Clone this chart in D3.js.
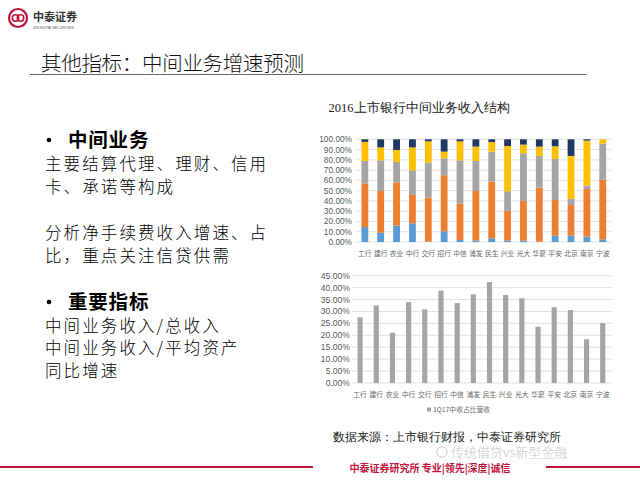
<!DOCTYPE html>
<html><head><meta charset="utf-8">
<script src="https://cdn.jsdelivr.net/npm/d3@7"></script>
<style>body{margin:0;background:#fff}svg{display:block}</style>
</head><body>
<svg id="c" width="640" height="480"></svg>
<script>
// ---------- data ----------
const banks = ["工行","建行","农业","中行","交行","招行","中信","浦发","民生","兴业","光大","华夏","平安","北京","南京","宁波"];
const seriesNames = ["结算类","银行卡","代理类","理财类","其他"];
const s1 = [14.5, 9.0, 16.0, 18.2, 0.5, 10.4, 2.0, 1.6, 3.5, 1.6, 1.3, 0.3, 6.2, 6.2, 5.2, 2.6];
const s2 = [42.5, 40.7, 42.0, 27.6, 42.7, 54.6, 35.3, 48.1, 55.3, 28.9, 38.7, 52.6, 34.7, 29.8, 46.4, 58.1];
const s3 = [22.0, 29.8, 20.0, 24.0, 34.1, 16.5, 42.2, 29.2, 29.2, 18.9, 46.4, 30.9, 39.9, 5.9, 3.3, 35.1];
const s4 = [18.5, 12.7, 11.6, 22.4, 20.7, 6.5, 18.5, 14.0, 9.4, 44.1, 8.4, 9.1, 12.4, 41.9, 43.8, 4.2];
const s5 = [2.5, 7.8, 10.4, 7.8, 2.0, 12.0, 2.0, 7.1, 2.6, 6.5, 5.2, 7.1, 6.8, 16.2, 1.3, 0.0];
const ratio1Q17 = [27.5, 32.5, 21.1, 33.9, 30.9, 38.7, 33.5, 37.2, 42.3, 36.9, 35.5, 23.6, 31.8, 30.6, 18.3, 25.1];
const ticks1 = [0,10,20,30,40,50,60,70,80,90,100];
const ticks2 = [0,5,10,15,20,25,30,35,40,45];
const legend2 = "1Q17中收占比营收";

const svg = d3.select("#c");
const cjk = "'Noto Sans CJK SC', sans-serif";
const red = "#c0143c";

// ---------- header ----------
svg.append("circle").attr("cx",18).attr("cy",18).attr("r",9).attr("fill","none").attr("stroke",red).attr("stroke-width",2.2);
svg.append("circle").attr("cx",15.5).attr("cy",18).attr("r",3.2).attr("fill","none").attr("stroke",red).attr("stroke-width",1.6);
svg.append("circle").attr("cx",20.5).attr("cy",18).attr("r",3.2).attr("fill","none").attr("stroke",red).attr("stroke-width",1.6);
svg.append("text").attr("x",33).attr("y",21).attr("font-family",cjk).attr("font-weight",700).attr("font-size",11).attr("fill","#333").text("中泰证券");
svg.append("text").attr("x",33).attr("y",28.5).attr("font-family","Liberation Sans, Arial").attr("font-size",3.6).attr("fill","#555").text("ZHONGTAI SECURITIES");

svg.append("text").attr("x",41).attr("y",71).attr("font-family",cjk).attr("font-weight",300).attr("font-size",20.5).attr("letter-spacing",-0.3).attr("fill","#111").text("其他指标：中间业务增速预测");
svg.append("line").attr("x1",30).attr("x2",587).attr("y1",74.5).attr("y2",74.5).attr("stroke","#666").attr("stroke-width",1);

// ---------- left text ----------
const leftLines = [
  {t:"中间业务",x:68,y:147,b:true,s:19.5},
  {t:"主要结算代理、理财、信用",x:45,y:170,s:16.5},
  {t:"卡、承诺等构成",x:45,y:193,s:16.5},
  {t:"分析净手续费收入增速、占",x:45,y:239,s:16.5},
  {t:"比，重点关注信贷供需",x:45,y:262,s:16.5},
  {t:"重要指标",x:68,y:309,b:true,s:19.5},
  {t:"中间业务收入/总收入",x:45,y:332,s:16.5},
  {t:"中间业务收入/平均资产",x:45,y:354,s:16.5},
  {t:"同比增速",x:45,y:377,s:16.5}
];
svg.selectAll("text.left").data(leftLines).enter().append("text").attr("class","left")
  .attr("x",d=>d.x).attr("y",d=>d.y).attr("font-family",cjk)
  .attr("font-weight",d=>d.b?700:300).attr("font-size",d=>d.s)
  .attr("letter-spacing",d=>d.b?0.8:2.1).attr("fill","#000").text(d=>d.t);
svg.selectAll("circle.bullet").data([140,302]).enter().append("circle").attr("class","bullet")
  .attr("cx",49).attr("cy",d=>d).attr("r",2.3).attr("fill","#000");

// ---------- chart 1: stacked ----------
const colors = ["#5b9bd5","#ed7d31","#a5a5a5","#ffc000","#1f3864"];
const rows = banks.map((b,i)=>({bank:b, [seriesNames[0]]:s1[i], [seriesNames[1]]:s2[i], [seriesNames[2]]:s3[i], [seriesNames[3]]:s4[i], [seriesNames[4]]:s5[i]}));
const stack = d3.stack().keys(seriesNames)(rows);
const x1 = d3.scaleBand().domain(banks).range([357,610.6]).paddingInner(0.57).paddingOuter(0.28);
const y1 = d3.scaleLinear().domain([0,100]).range([242,139.3]);

svg.append("text").attr("x",419).attr("y",112).attr("text-anchor","middle").attr("font-family","'Liberation Serif', serif").attr("font-size",12.5).attr("fill","#222").text("2016上市银行中间业务收入结构");

const g1 = svg.append("g");
g1.selectAll("line.grid").data(ticks1).enter().append("line")
  .attr("x1",356.5).attr("x2",611).attr("y1",d=>y1(d)).attr("y2",d=>y1(d)).attr("stroke","#d9d9d9").attr("stroke-width",0.8);
g1.selectAll("text.yt").data(ticks1).enter().append("text")
  .attr("x",352).attr("y",d=>y1(d)+3).attr("text-anchor","end").attr("font-family","'Liberation Sans', Arial").attr("font-size",8.3).attr("fill","#595959")
  .text(d=>d3.format(".2f")(d)+"%");
g1.selectAll("g.layer").data(stack).enter().append("g").attr("fill",(d,i)=>colors[i])
  .selectAll("rect").data(d=>d).enter().append("rect")
  .attr("x",d=>x1(d.data.bank)).attr("width",x1.bandwidth())
  .attr("y",d=>y1(d[1])).attr("height",d=>Math.max(0,y1(d[0])-y1(d[1])));
g1.selectAll("text.xt").data(banks).enter().append("text")
  .attr("x",d=>x1(d)+x1.bandwidth()/2).attr("y",256).attr("text-anchor","middle").attr("font-family",cjk).attr("font-size",6.8).attr("fill","#666")
  .text(d=>d);

// ---------- chart 2: bars ----------
const x2 = d3.scaleBand().domain(banks).range([352,610.8]).paddingInner(0.68).paddingOuter(0.34);
const y2 = d3.scaleLinear().domain([0,45]).range([383,275.7]);
const g2 = svg.append("g");
g2.selectAll("line.grid").data(ticks2).enter().append("line")
  .attr("x1",352).attr("x2",612).attr("y1",d=>y2(d)).attr("y2",d=>y2(d)).attr("stroke","#d9d9d9").attr("stroke-width",0.8);
g2.selectAll("text.yt").data(ticks2).enter().append("text")
  .attr("x",350).attr("y",d=>y2(d)+3).attr("text-anchor","end").attr("font-family","'Liberation Sans', Arial").attr("font-size",8.6).attr("fill","#595959")
  .text(d=>d3.format(".2f")(d)+"%");
g2.selectAll("rect").data(ratio1Q17).enter().append("rect")
  .attr("x",(d,i)=>x2(banks[i])).attr("width",x2.bandwidth())
  .attr("y",d=>y2(d)).attr("height",d=>y2(0)-y2(d)).attr("fill","#a5a5a5");
g2.selectAll("text.xt").data(banks).enter().append("text")
  .attr("x",d=>x2(d)+x2.bandwidth()/2).attr("y",397).attr("text-anchor","middle").attr("font-family",cjk).attr("font-size",6.8).attr("fill","#666")
  .text(d=>d);
g2.append("rect").attr("x",427).attr("y",407.5).attr("width",4).attr("height",4).attr("fill","#a5a5a5");
g2.append("text").attr("x",433).attr("y",412).attr("font-family",cjk).attr("font-size",6.8).attr("fill","#666").text(legend2);

// ---------- footer ----------
svg.append("text").attr("x",333).attr("y",441).attr("font-family","'Liberation Serif', serif").attr("font-size",12).attr("fill","#222").text("数据来源：上市银行财报，中泰证券研究所");
svg.append("text").attr("x",451).attr("y",457).attr("font-family",cjk).attr("font-weight",300).attr("font-size",13).attr("fill","#c8c8c8").text("传统借贷vs新型金融");
svg.append("circle").attr("cx",442).attr("cy",452).attr("r",5.2).attr("fill","none").attr("stroke","#ccc").attr("stroke-width",1);
svg.append("line").attr("x1",0).attr("x2",313).attr("y1",467).attr("y2",467).attr("stroke",red).attr("stroke-width",2);
svg.append("line").attr("x1",546).attr("x2",640).attr("y1",467).attr("y2",467).attr("stroke",red).attr("stroke-width",2);
svg.append("text").attr("x",430).attr("y",472).attr("text-anchor","middle").attr("font-family",cjk).attr("font-weight",700).attr("font-size",10).attr("fill",red).text("中泰证券研究所 专业|领先|深度|诚信");
</script>
</body></html>
